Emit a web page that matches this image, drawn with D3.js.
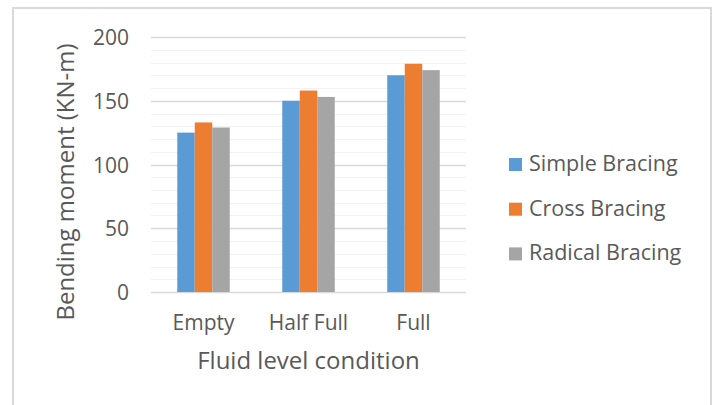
<!DOCTYPE html>
<html>
<head>
<meta charset="utf-8">
<script src="https://cdn.jsdelivr.net/npm/d3@7"></script>
<style>
  body { margin: 0; background: #fff; }
  text { font-family: "Open Sans", sans-serif; fill: #595959; }
</style>
</head>
<body>
<script>
// chart data
var categories = ["Empty", "Half Full", "Full"];
var seriesNames = ["Simple Bracing", "Cross Bracing", "Radical Bracing"];
var simpleBracing = [125, 150, 170];
var crossBracing = [133, 158, 179];
var radicalBracing = [129, 153, 174];
var yTicks = [0, 50, 100, 150, 200];
var colors = ["#5B9BD5", "#ED7D31", "#A5A5A5"];

var seriesValues = [simpleBracing, crossBracing, radicalBracing];

var width = 715, height = 405;

var svg = d3.select("body").append("svg")
    .attr("width", width)
    .attr("height", height);

// outer chart border
svg.append("rect")
    .attr("x", 13).attr("y", 8)
    .attr("width", 698).attr("height", 420)
    .attr("fill", "none")
    .attr("stroke", "#d9d9d9")
    .attr("stroke-width", 2);

var plot = { left: 151, right: 466, top: 37, bottom: 292 };

var x0 = d3.scaleBand()
    .domain(categories)
    .range([plot.left, plot.right])
    .paddingInner(0.5)
    .paddingOuter(0.25);

var x1 = d3.scaleBand()
    .domain(seriesNames)
    .range([0, x0.bandwidth()]);

var y = d3.scaleLinear()
    .domain([0, 200])
    .range([plot.bottom, plot.top]);

// minor gridlines
var minor = d3.range(0, 201, 10).filter(function(d) { return d % 50 !== 0; });
svg.append("g").selectAll("line")
    .data(minor)
    .enter().append("line")
    .attr("x1", plot.left).attr("x2", plot.right)
    .attr("y1", function(d) { return Math.round(y(d)) + 0.5; })
    .attr("y2", function(d) { return Math.round(y(d)) + 0.5; })
    .attr("stroke", "#f2f2f2")
    .attr("stroke-width", 1);

// major gridlines
svg.append("g").selectAll("line")
    .data(yTicks)
    .enter().append("line")
    .attr("x1", plot.left).attr("x2", plot.right)
    .attr("y1", function(d) { return Math.round(y(d)) + 0.5; })
    .attr("y2", function(d) { return Math.round(y(d)) + 0.5; })
    .attr("stroke", "#d9d9d9")
    .attr("stroke-width", 1.3);

// bars
var groups = svg.append("g").selectAll("g")
    .data(categories)
    .enter().append("g")
    .attr("transform", function(d) { return "translate(" + x0(d) + ",0)"; });

groups.selectAll("rect")
    .data(function(d, i) {
        return seriesNames.map(function(s, j) { return { key: s, value: seriesValues[j][i], idx: j }; });
    })
    .enter().append("rect")
    .attr("x", function(d) { return x1(d.key); })
    .attr("width", x1.bandwidth())
    .attr("y", function(d) { return y(d.value); })
    .attr("height", function(d) { return y(0) - y(d.value); })
    .attr("fill", function(d) { return colors[d.idx]; });

// y axis labels
var yAxis = d3.axisLeft(y).tickValues(yTicks).tickSize(0).tickPadding(0);
var yg = svg.append("g")
    .attr("transform", "translate(129,0)")
    .call(yAxis);
yg.select(".domain").remove();
yg.selectAll("text")
    .attr("font-size", 21)
    .attr("font-family", "Open Sans")
    .attr("fill", "#595959")
    .attr("dy", "0.36em");

// x axis labels
var xAxis = d3.axisBottom(x0).tickSize(0).tickPadding(0);
var xg = svg.append("g")
    .attr("transform", "translate(0,315)")
    .call(xAxis);
xg.select(".domain").remove();
xg.selectAll("text")
    .attr("font-size", 21)
    .attr("font-family", "Open Sans")
    .attr("fill", "#595959")
    .attr("dy", "0.72em");

// axis titles
svg.append("text")
    .attr("x", (plot.left + plot.right) / 2)
    .attr("y", 369)
    .attr("text-anchor", "middle")
    .attr("font-size", 24)
    .text("Fluid level condition");

svg.append("text")
    .attr("transform", "translate(74,182) rotate(-90)")
    .attr("text-anchor", "middle")
    .attr("font-size", 24)
    .text("Bending moment (KN-m)");

// legend
var legend = svg.append("g").selectAll("g")
    .data(seriesNames)
    .enter().append("g")
    .attr("transform", function(d, i) { return "translate(509," + (171 + i * 44.7) + ")"; });

legend.append("rect")
    .attr("x", 0).attr("y", -13)
    .attr("width", 13).attr("height", 13)
    .attr("fill", function(d, i) { return colors[i]; });

legend.append("text")
    .attr("x", 20).attr("y", 0)
    .attr("font-size", 21.5)
    .text(function(d) { return d; });
</script>
</body>
</html>
